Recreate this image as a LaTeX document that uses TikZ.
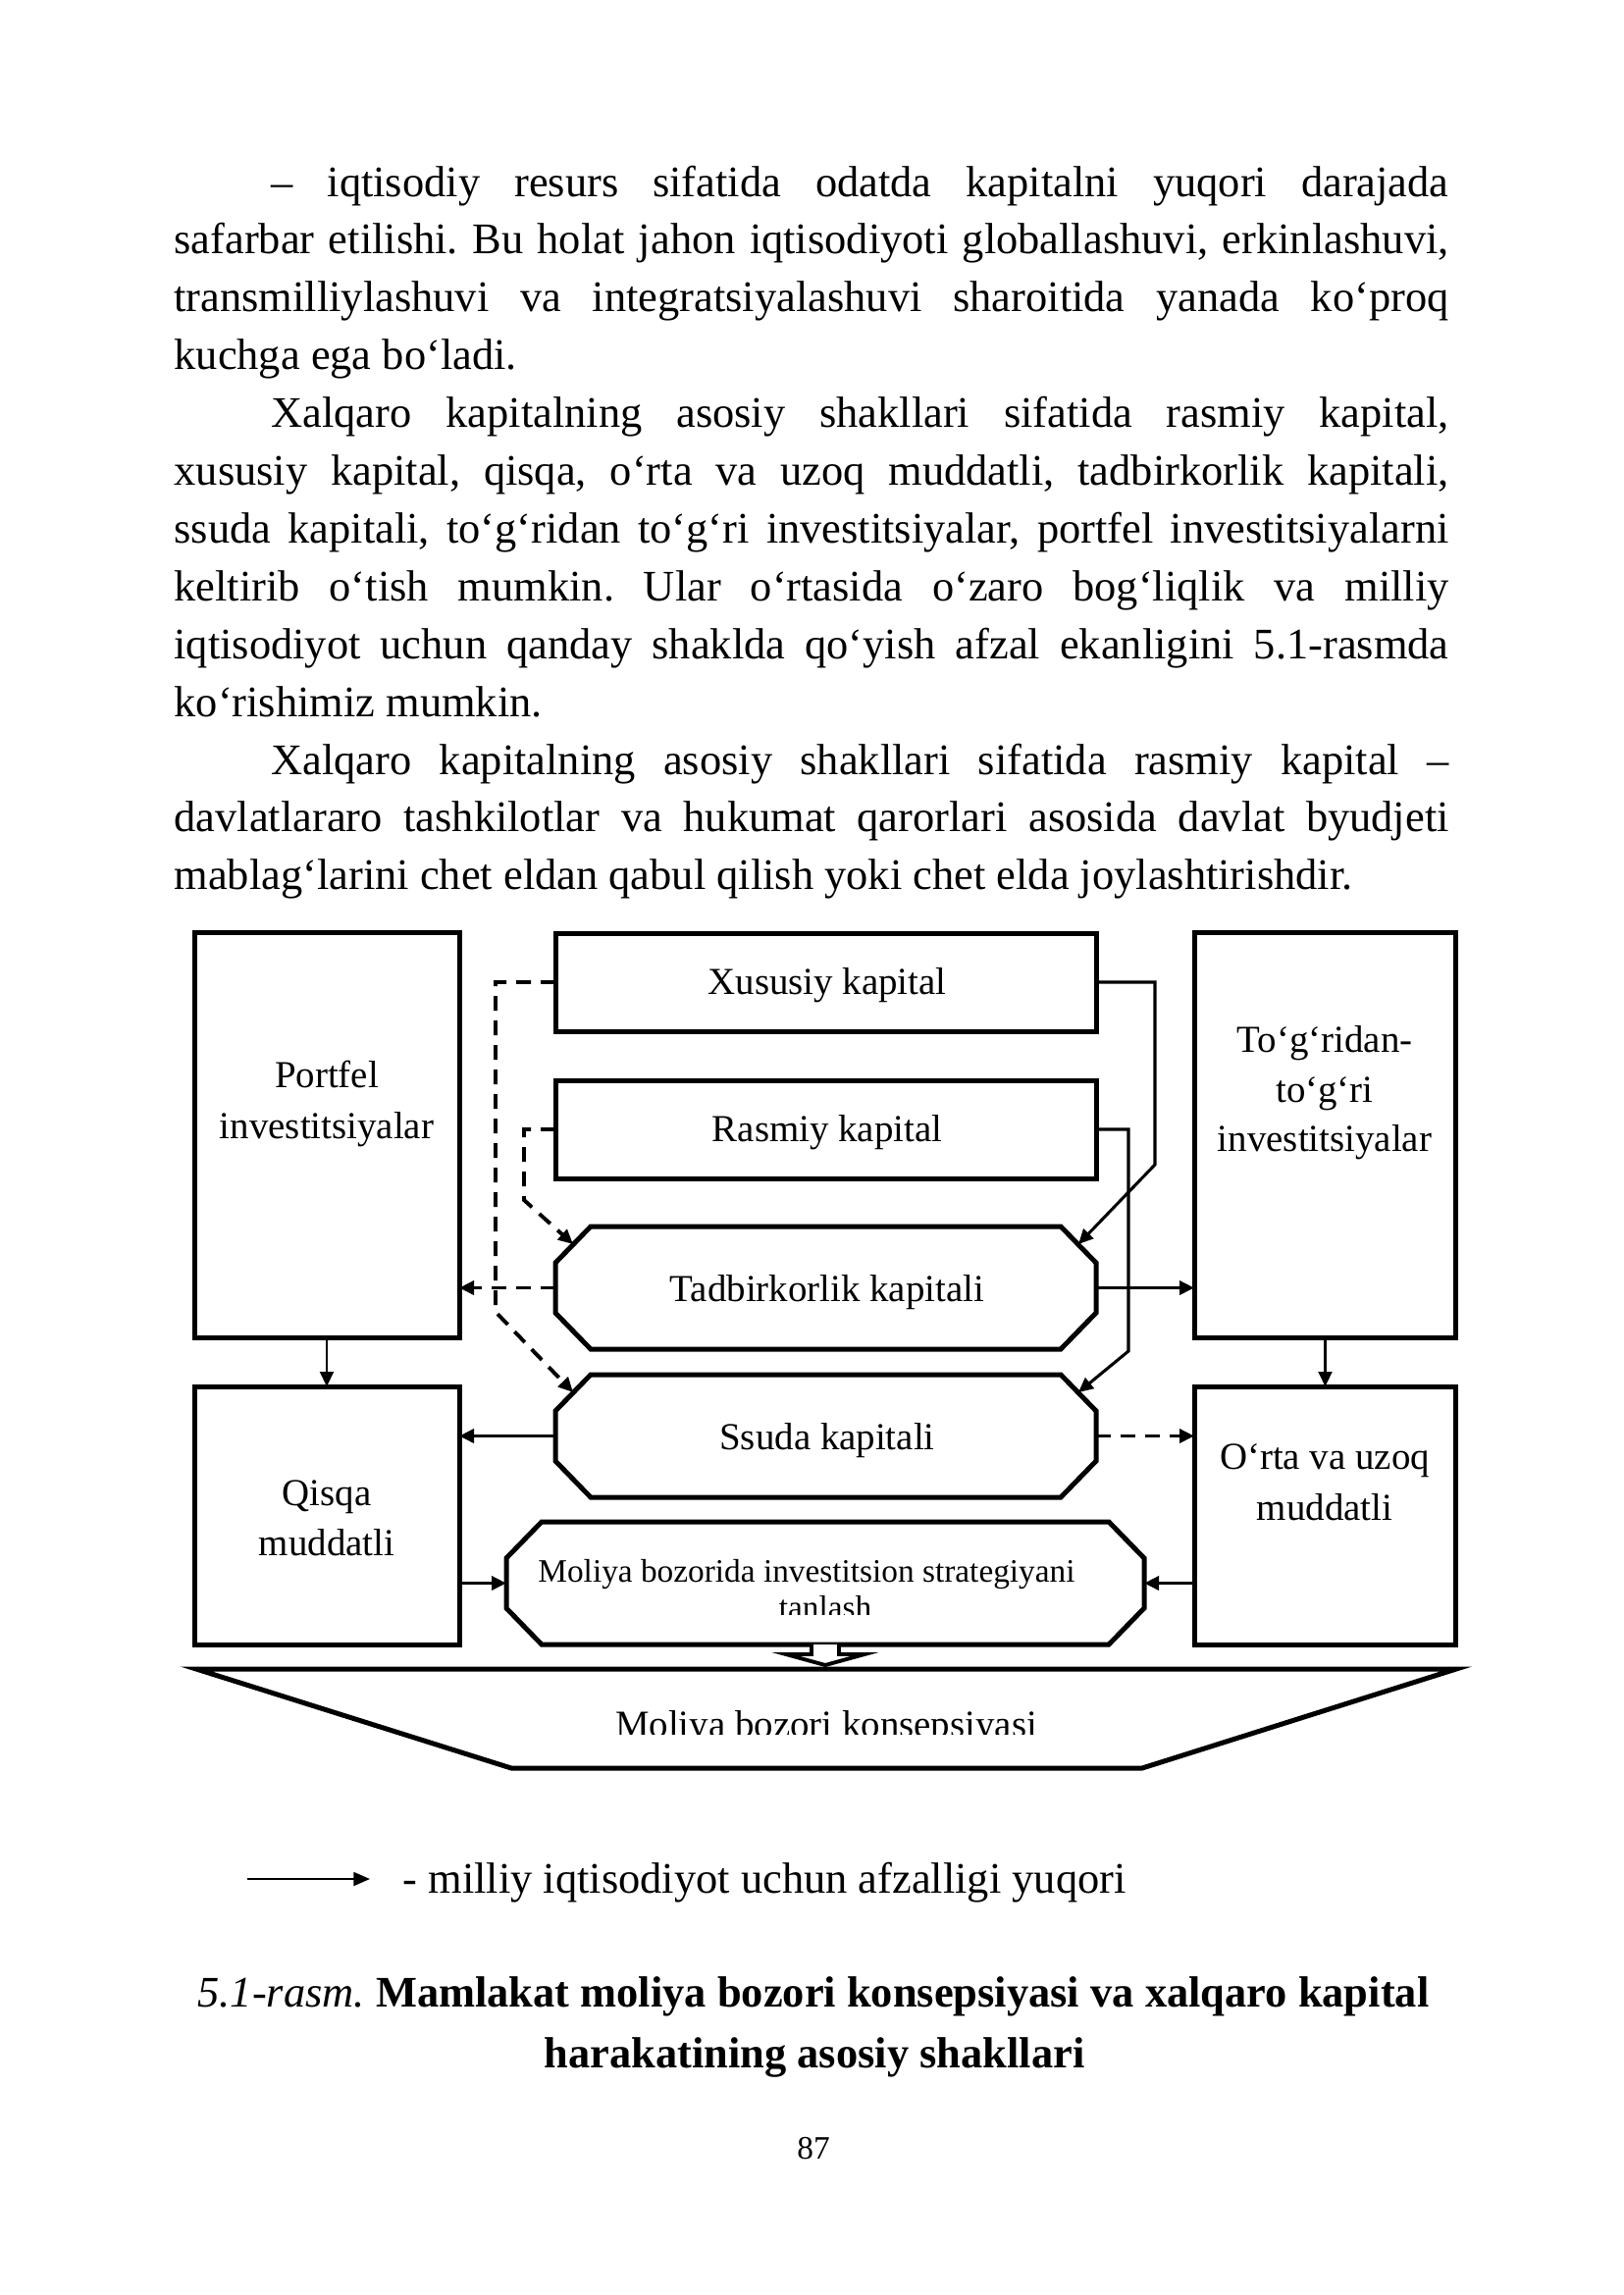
\documentclass[tikz,border=0pt]{standalone}
\usepackage{fontspec}
\setmainfont{Liberation Serif}
\usetikzlibrary{arrows.meta,calc}
\frenchspacing
\begin{document}
\begin{tikzpicture}[x=0.36pt,y=-0.36pt,
  boxline/.style={line width=1.8pt},
  boxnode/.style={draw, line width=1.8pt, inner sep=0pt, outer sep=0pt},
  area/.style={draw=none, inner sep=0pt, outer sep=0pt},
  tipa/.style={-{Triangle[length=5.4pt,width=5pt]}},
  conn/.style={line width=1.1pt, tipa},
  connthick/.style={line width=1.4pt, tipa},
  dashconn/.style={line width=1.4pt, dash pattern=on 5.4pt off 3.6pt, tipa},
  body/.style={font=\fontsize{16pt}{21.2pt}\selectfont, inner sep=0pt, anchor=base west},
  lab/.style={font=\fontsize{14pt}{16pt}\selectfont, inner sep=0pt, anchor=base},
  small/.style={font=\fontsize{12pt}{14pt}\selectfont, inner sep=0pt, anchor=base},
]
\fill[white] (0,0) rectangle (1654,2339);
\useasboundingbox (0,0) rectangle (1654,2339);

% ---------- body text ----------
\node[body] (l1) at (276,200) {\makebox[432pt][s]{– iqtisodiy resurs sifatida odatda kapitalni yuqori darajada}};
\node[body] (l2) at (177,258.9) {\makebox[467.64pt][s]{safarbar etilishi. Bu holat jahon iqtisodiyoti globallashuvi, erkinlashuvi,}};
\node[body] (l3) at (177,317.8) {\makebox[467.64pt][s]{transmilliylashuvi va integratsiyalashuvi sharoitida yanada ko‘proq}};
\node[body] (l4) at (177,376.7) {kuchga ega bo‘ladi.};
\node[body] (l5) at (276,435.6) {\makebox[432pt][s]{Xalqaro kapitalning asosiy shakllari sifatida rasmiy kapital,}};
\node[body] (l6) at (177,494.5) {\makebox[467.64pt][s]{xususiy kapital, qisqa, o‘rta va uzoq muddatli, tadbirkorlik kapitali,}};
\node[body] (l7) at (177,553.4) {\makebox[467.64pt][s]{ssuda kapitali, to‘g‘ridan to‘g‘ri investitsiyalar, portfel investitsiyalarni}};
\node[body] (l8) at (177,612.3) {\makebox[467.64pt][s]{keltirib o‘tish mumkin. Ular o‘rtasida o‘zaro bog‘liqlik va milliy}};
\node[body] (l9) at (177,671.2) {\makebox[467.64pt][s]{iqtisodiyot uchun qanday shaklda qo‘yish afzal ekanligini 5.1-rasmda}};
\node[body] (l10) at (177,730.1) {ko‘rishimiz mumkin.};
\node[body] (l11) at (276,789) {\makebox[432pt][s]{Xalqaro kapitalning asosiy shakllari sifatida rasmiy kapital –}};
\node[body] (l12) at (177,847.9) {\makebox[467.64pt][s]{davlatlararo tashkilotlar va hukumat qarorlari asosida davlat byudjeti}};
\node[body] (l13) at (177,906.8) {mablag‘larini chet eldan qabul qilish yoki chet elda joylashtirishdir.};

% ---------- boxes ----------
\node[boxnode, minimum width=97.2pt, minimum height=148.68pt] (por) at (333,1156.5) {};
\node[boxnode, minimum width=96.1pt, minimum height=148.68pt] (tog) at (1350.5,1156.5) {};
\node[boxnode, minimum width=97.2pt, minimum height=94.68pt] (qis) at (333,1544.5) {};
\node[boxnode, minimum width=96.1pt, minimum height=94.68pt] (ort) at (1350.5,1544.5) {};
\node[boxnode, minimum width=198.36pt, minimum height=36pt] (xus) at (841.5,1001) {};
\node[boxnode, minimum width=198.36pt, minimum height=36pt] (ras) at (841.5,1151) {};
\node[area, minimum width=198.36pt, minimum height=45pt] (tad) at (841.5,1312.5) {};
\node[area, minimum width=198.36pt, minimum height=45pt] (ssu) at (841.5,1463.5) {};
\node[area, minimum width=234pt, minimum height=45pt] (mol) at (841,1613.5) {};

\newcommand\octo[1]{%
  \draw[boxline] ($(#1.north west)+(36,0)$) -- ($(#1.north east)+(-36,0)$)
    -- ($(#1.north east)+(0,37)$) -- ($(#1.south east)+(0,-37)$)
    -- ($(#1.south east)+(-36,0)$) -- ($(#1.south west)+(36,0)$)
    -- ($(#1.south west)+(0,-37)$) -- ($(#1.north west)+(0,37)$) -- cycle;}
\octo{tad}
\octo{ssu}
\octo{mol}

% trapezoid
\draw[boxline] (200,1701) -- (1484,1701) -- (1164,1802) -- (521,1802) -- cycle;

% ---------- box texts ----------
\node[lab] (txus) at (843,1013) {Xususiy kapital};
\node[lab] (tras) at (843,1163) {Rasmiy kapital};
\node[lab] (ttad) at (843,1326) {Tadbirkorlik kapitali};
\node[lab] (tssu) at (843,1477) {Ssuda kapitali};
\node[lab] (tpor1) at (333,1108) {Portfel};
\node[lab] (tpor2) at (333,1160) {investitsiyalar};
\node[lab] (ttog1) at (1350,1072) {To‘g‘ridan-};
\node[lab] (ttog2) at (1350,1123) {to‘g‘ri};
\node[lab] (ttog3) at (1350,1173) {investitsiyalar};
\node[lab] (tqis1) at (333,1534) {Qisqa};
\node[lab] (tqis2) at (333,1585) {muddatli};
\node[lab] (tort1) at (1350,1497) {O‘rta va uzoq};
\node[lab] (tort2) at (1350,1549) {muddatli};
\node[small] (tmol1) at (822,1612) {Moliya bozorida investitsion strategiyani};
\begin{scope}
  \clip (600,1560) rectangle (1100,1645);
  \node[small] (tmol2) at (841,1649) {tanlash};
\end{scope}
\begin{scope}
  \clip (500,1710) rectangle (1200,1767);
  \node[lab] (tkon) at (842,1770) {Moliya bozori konsepsiyasi};
\end{scope}

% ---------- connectors ----------
\draw[dashconn] (xus.west) -- ++(-61,0) -- ++(0,336) -- ($(ssu.north west)+(18,18)$);
\draw[dashconn] (ras.west) -- ++(-32,0) -- ++(0,72) -- ($(tad.north west)+(18,18)$);
\draw[dashconn] (tad.west) -- (tad.west -| por.east);
\draw[conn] (xus.east) -- ++(60,0) -- ++(0,186) -- ($(tad.north east)+(-18,18)$);
\draw[conn] (ras.east) -- ++(33,0) -- ++(0,226) -- ($(ssu.north east)+(-18,18)$);
\draw[connthick] (tad.east) -- (tad.east -| tog.west);
\draw[dashconn] (ssu.east) -- (ssu.east -| ort.west);
\draw[connthick] (ssu.west) -- (ssu.west -| qis.east);
\draw[connthick] (mol.west -| qis.east) -- (mol.west);
\draw[connthick] (mol.east -| ort.west) -- (mol.east);
\draw[line width=0.9pt, tipa] (por.south) -- (qis.north);
\draw[line width=0.9pt, tipa] (tog.south) -- (ort.north);

% block arrow from mol to trapezoid
\draw[line width=1.4pt, fill=white]
  ($(mol.south)+(-14,0)$) -- ($(mol.south)+(-14,10)$) -- ($(mol.south)+(-40,10)$)
  -- ($(mol.south)+(0,21)$) -- ($(mol.south)+(40,10)$) -- ($(mol.south)+(14,10)$)
  -- ($(mol.south)+(14,0)$);

% ---------- legend ----------
\coordinate (lg1) at (252,1915);
\coordinate (lg2) at (377,1915);
\draw[line width=0.75pt, -{Triangle[length=6pt,width=5pt]}] (lg1) -- (lg2);
\node[body] (lgt) at (410,1929) {- milliy iqtisodiyot uchun afzalligi yuqori};

% ---------- caption ----------
\node[body, anchor=base] (cap1) at (829,2045) {\textit{5.1-rasm.} \textbf{Mamlakat moliya bozori konsepsiyasi va xalqaro kapital}};
\node[body, anchor=base] (cap2) at (830,2107) {\textbf{harakatining asosiy shakllari}};
\node[small] (pg) at (829,2200) {87};
\end{tikzpicture}
\end{document}
